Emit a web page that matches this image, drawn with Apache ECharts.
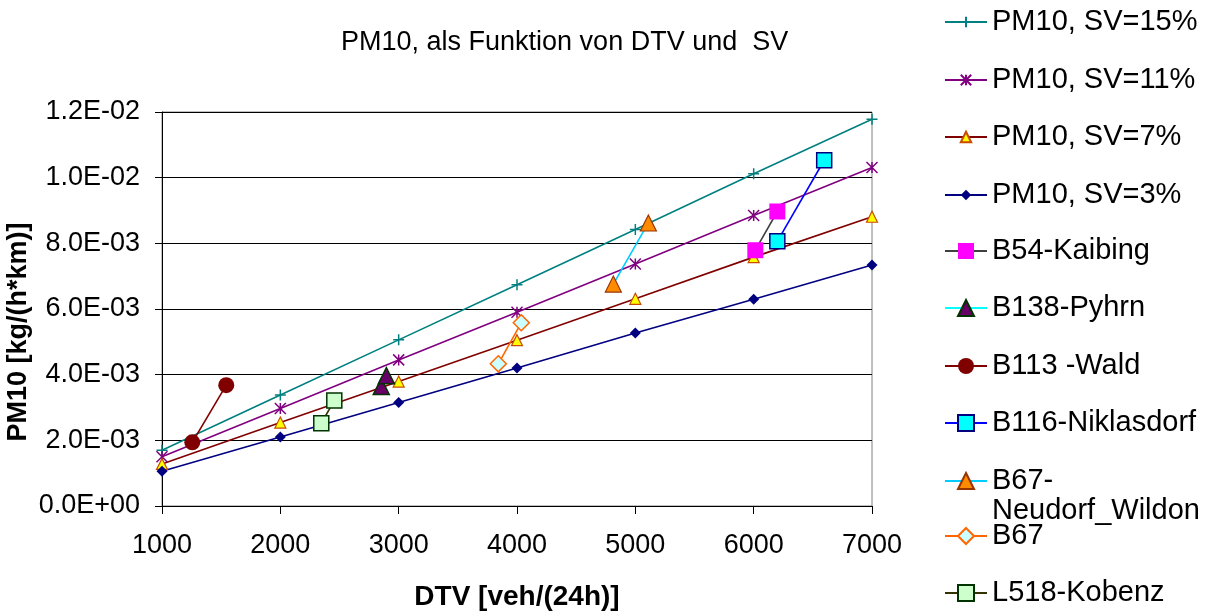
<!DOCTYPE html>
<html>
<head>
<meta charset="utf-8">
<script src="https://cdn.jsdelivr.net/npm/echarts@6/dist/echarts.min.js"></script>
<style>
  html, body { margin: 0; padding: 0; background: #fff; }
  #chart { width: 1217px; height: 616px; }
</style>
</head>
<body>
<div id="chart"></div>
<script>
// Model curves: PM10 emission over daily traffic (DTV) for several heavy-traffic shares (SV)
const dtvValues = [1000, 2000, 3000, 4000, 5000, 6000, 7000];
const pmSV15 = [1.70e-3, 3.38e-3, 5.06e-3, 6.74e-3, 8.42e-3, 1.012e-2, 1.178e-2];
const pmSV11 = [1.50e-3, 2.97e-3, 4.45e-3, 5.90e-3, 7.37e-3, 8.85e-3, 1.031e-2];
const pmSV7  = [1.28e-3, 2.54e-3, 3.79e-3, 5.05e-3, 6.31e-3, 7.58e-3, 8.81e-3];
const pmSV3  = [1.06e-3, 2.10e-3, 3.15e-3, 4.20e-3, 5.27e-3, 6.30e-3, 7.34e-3];

// Measured road sections: [DTV, PM10] pairs
const b54Kaibing     = [[6014, 7.79e-3], [6200, 8.97e-3]];
const b138Pyhrn      = [[2853, 3.64e-3], [2896, 3.97e-3]];
const b113Wald       = [[1256, 1.94e-3], [1543, 3.68e-3]];
const b116Niklasdorf = [[6200, 8.06e-3], [6596, 1.053e-2]];
const b67Neudorf     = [[4814, 6.76e-3], [5110, 8.62e-3]];
const b67            = [[3842, 4.33e-3], [4036, 5.58e-3]];
const l518Kobenz     = [[2346, 2.52e-3], [2456, 3.21e-3]];

const yTickLabels = ['0.0E+00', '2.0E-03', '4.0E-03', '6.0E-03', '8.0E-03', '1.0E-02', '1.2E-02'];
const xTickLabels = ['1000', '2000', '3000', '4000', '5000', '6000', '7000'];

const FONT = "'Liberation Sans', Arial, sans-serif";
const CROSS = 'path://M5 0L5 10M0 5L10 5';
const STAR = 'path://M0 0L10 10M10 0L0 10M5 0L5 10';

function curve(values) {
  return dtvValues.map((x, i) => [x, values[i]]);
}

const seriesDefs = [
  { name: 'PM10, SV=15%', data: curve(pmSV15), line: '#008080', symbol: CROSS, size: 11, fill: '#008080', border: '#008080', bw: 1.5, legendH: 13 },
  { name: 'PM10, SV=11%', data: curve(pmSV11), line: '#800080', symbol: STAR, size: 11, fill: '#800080', border: '#800080', bw: 1.5, legendH: 13 },
  { name: 'PM10, SV=7%',  data: curve(pmSV7),  line: '#800000', symbol: 'triangle', size: 11, fill: '#FFFF00', border: '#C84B00', bw: 1.2, legendH: 13 },
  { name: 'PM10, SV=3%',  data: curve(pmSV3),  line: '#000080', symbol: 'diamond', size: 11, fill: '#000080', border: '#000080', bw: 0, legendH: 13 },
  { name: 'B54-Kaibing',  data: b54Kaibing, line: '#404040', symbol: 'rect', size: 16, fill: '#FF00FF', border: '#FF00FF', bw: 0, legendH: 20 },
  { name: 'B138-Pyhrn',   data: b138Pyhrn, line: '#00FFFF', symbol: 'triangle', size: 16, fill: '#660066', border: '#003300', bw: 1.5, legendH: 20 },
  { name: 'B113 -Wald',   data: b113Wald, line: '#800000', symbol: 'circle', size: 16, fill: '#800000', border: '#800000', bw: 0, legendH: 20 },
  { name: 'B116-Niklasdorf', data: b116Niklasdorf, line: '#0000FF', symbol: 'rect', size: 15, fill: '#00FFFF', border: '#000080', bw: 1.5, legendH: 20 },
  { name: 'B67-Neudorf_Wildon', data: b67Neudorf, line: '#00CCFF', symbol: 'triangle', size: 16, fill: '#FF8C00', border: '#993300', bw: 1.2, legendH: 20 },
  { name: 'B67',          data: b67, line: '#FF6600', symbol: 'diamond', size: 16, fill: '#CCFFFF', border: '#FF6600', bw: 1.5, legendH: 20 },
  { name: 'L518-Kobenz',  data: l518Kobenz, line: '#333300', symbol: 'rect', size: 15, fill: '#CCFFCC', border: '#003300', bw: 1.5, legendH: 20 }
];

// vertical centre of each legend row
const legendRows = [22, 80, 137, 195, 251, 308, 366, 423, 481, 536, 593];
const LEGEND_LH = 30;

const series = seriesDefs.map(d => ({
  name: d.name,
  type: 'line',
  data: d.data,
  symbol: d.symbol,
  symbolSize: d.size,
  showAllSymbol: true,
  lineStyle: { color: d.line, width: 1.6 },
  itemStyle: { color: d.fill, borderColor: d.border, borderWidth: d.bw },
  emphasis: { disabled: true },
  z: 2
}));

const legends = seriesDefs.map((d, i) => {
  const twoLine = d.name === 'B67-Neudorf_Wildon';
  const lines = twoLine ? 3 : 1;
  return {
    data: [d.name],
    orient: 'vertical',
    left: 944,
    top: legendRows[i] - (LEGEND_LH * lines) / 2,
    padding: 0,
    itemWidth: 42,
    itemHeight: d.legendH,
    itemGap: 0,
    formatter: twoLine ? () => '\nB67-\nNeudorf_Wildon' : '{name}',
    textStyle: { fontFamily: FONT, fontSize: 29, color: '#000', lineHeight: LEGEND_LH }
  };
});

const chart = echarts.init(document.getElementById('chart'), null, { renderer: 'canvas' });
chart.setOption({
  animation: false,
  backgroundColor: '#fff',
  title: {
    text: 'PM10, als Funktion von DTV und  SV',
    left: 341,
    top: 28,
    padding: 0,
    textStyle: { fontFamily: FONT, fontSize: 27, fontWeight: 'normal', color: '#000', lineHeight: 30 }
  },
  legend: legends,
  grid: {
    left: 162, right: 345, top: 112, bottom: 104,
    show: true, borderColor: '#808080', borderWidth: 1, backgroundColor: 'transparent'
  },
  xAxis: {
    type: 'value',
    min: 1000, max: 7000, interval: 1000,
    name: 'DTV [veh/(24h)]',
    nameLocation: 'middle',
    nameGap: 77,
    nameTextStyle: { fontFamily: FONT, fontSize: 28, fontWeight: 'bold', color: '#000' },
    axisLine: { lineStyle: { color: '#000', width: 1 } },
    axisTick: { length: 8, lineStyle: { color: '#000' } },
    axisLabel: {
      margin: 26,
      fontFamily: FONT, fontSize: 27, color: '#000',
      formatter: v => xTickLabels[Math.round((v - 1000) / 1000)]
    },
    splitLine: { show: false }
  },
  yAxis: {
    type: 'value',
    min: 0, max: 0.012, interval: 0.002,
    axisLine: { show: true, lineStyle: { color: '#000', width: 1 } },
    axisTick: { show: true, length: 7, lineStyle: { color: '#000' } },
    axisLabel: {
      margin: 22,
      fontFamily: FONT, fontSize: 27, color: '#000',
      formatter: v => yTickLabels[Math.round(v / 0.002)]
    },
    splitLine: { show: true, lineStyle: { color: '#000', width: 1 } }
  },
  graphic: [{
    type: 'text',
    x: 19, y: 332,
    rotation: Math.PI / 2,
    style: {
      text: 'PM10 [kg/(h*km)]',
      fontFamily: FONT, fontSize: 27, fontWeight: 'bold', fill: '#000',
      align: 'center', verticalAlign: 'middle'
    }
  }],
  series: series
});
</script>
</body>
</html>
